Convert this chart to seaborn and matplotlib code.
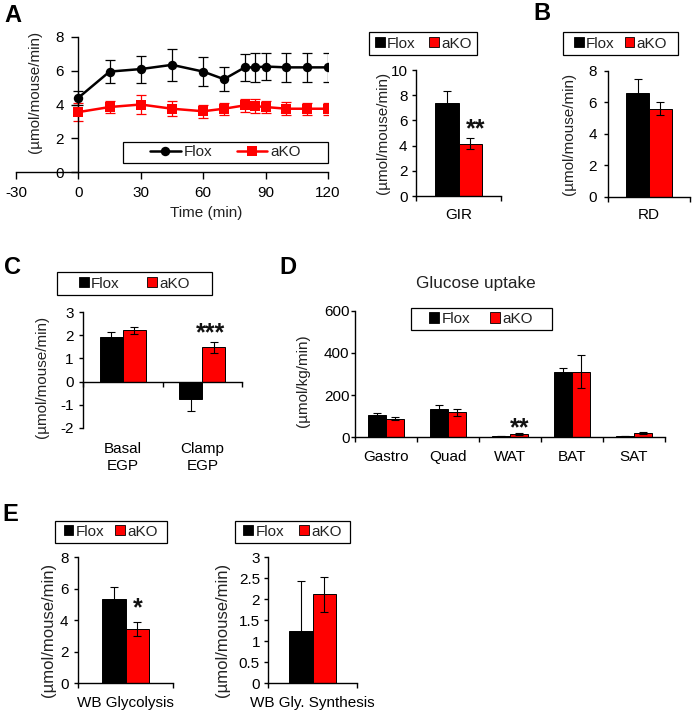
import matplotlib
matplotlib.use("Agg")
import matplotlib.pyplot as plt
import numpy as np
import pandas as pd
import seaborn as sns
from matplotlib.patches import Rectangle, Patch
from matplotlib.lines import Line2D
from matplotlib.ticker import FuncFormatter

# ---------------- data ----------------
groups = ["Flox", "aKO"]

time_min = [0, 15, 30, 45, 60, 70, 80, 85, 90, 100, 110, 120]
flox_rate = [4.4, 5.95, 6.1, 6.35, 5.95, 5.5, 6.2, 6.2, 6.25, 6.2, 6.2, 6.2]
flox_rate_err = [0.4, 0.7, 0.8, 0.95, 0.85, 0.7, 0.8, 0.85, 0.8, 0.85, 0.85, 0.85]
ako_rate = [3.55, 3.85, 4.0, 3.75, 3.6, 3.75, 3.95, 3.9, 3.85, 3.75, 3.75, 3.75]
ako_rate_err = [0.55, 0.35, 0.55, 0.45, 0.4, 0.35, 0.4, 0.4, 0.35, 0.4, 0.35, 0.35]
time_ticks = [-30, 0, 30, 60, 90, 120]
rate_ticks = [0, 2, 4, 6, 8]

gir_cats = ["GIR"]
gir_flox, gir_flox_err = [7.4], [0.9]
gir_ako, gir_ako_err = [4.15], [0.45]

rd_cats = ["RD"]
rd_flox, rd_flox_err = [6.6], [0.9]
rd_ako, rd_ako_err = [5.6], [0.4]

egp_cats = ["Basal\nEGP", "Clamp\nEGP"]
egp_flox, egp_flox_err = [1.95, -0.76], [0.2, 0.5]
egp_ako, egp_ako_err = [2.22, 1.48], [0.15, 0.23]

uptake_cats = ["Gastro", "Quad", "WAT", "BAT", "SAT"]
uptake_flox = [108, 135, 5, 310, 7]
uptake_flox_err = [8, 20, 1, 20, 1]
uptake_ako = [89, 118, 16, 311, 22]
uptake_ako_err = [9, 17, 3, 78, 5]

gly_cats = ["WB Glycolysis"]
gly_flox, gly_flox_err = [5.35], [0.78]
gly_ako, gly_ako_err = [3.45], [0.47]

syn_cats = ["WB Gly. Synthesis"]
syn_flox, syn_flox_err = [1.25], [1.18]
syn_ako, syn_ako_err = [2.12], [0.42]

RED = "#ff0000"
PAL = {"Flox": "black", "aKO": RED}

# ---------------- style ----------------
sns.set_style("ticks")
plt.rcParams["font.family"] = ["Liberation Sans", "DejaVu Sans"]
plt.rcParams["axes.unicode_minus"] = False
plt.rcParams["axes.linewidth"] = 1.0
plt.rcParams["xtick.major.width"] = 1.0
plt.rcParams["ytick.major.width"] = 1.0
plt.rcParams["xtick.color"] = "black"
plt.rcParams["ytick.color"] = "black"
plt.rcParams["axes.edgecolor"] = "black"
plt.rcParams["text.color"] = "#222222"

W, H = 693, 712
fig = plt.figure(figsize=(W / 100, H / 100), dpi=100)
FS = 11


def add_ax(l, t, r, b):
    return fig.add_axes([l / W, 1 - b / H, (r - l) / W, (b - t) / H])


def ftext(x, y, s, **kw):
    return fig.text(x / W, 1 - y / H, s, **kw)


def letter(x, y, s):
    ftext(x, y, s, fontsize=17, fontweight="bold", ha="center", va="baseline", color="black")


def stars(x, y, s):
    ftext(x, y, s, fontsize=18, fontweight="bold", ha="center", va="baseline", color="#111111")


def box_legend(box, handles, colsp, hl=0.65, hh=0.65, htp=0.15):
    l, t, r, b = box
    fig.patches.append(Rectangle((l / W, 1 - b / H), (r - l) / W, (b - t) / H,
                                 transform=fig.transFigure, facecolor="white",
                                 edgecolor="black", linewidth=0.9, zorder=3))
    fig.legend(handles, groups, loc="center",
               bbox_to_anchor=((l + r) / 2 / W, 1 - (t + b) / 2 / H),
               ncol=2, frameon=False, fontsize=FS, handlelength=hl,
               handleheight=hh, handletextpad=htp, columnspacing=colsp,
               borderpad=0, borderaxespad=0)


def bar_handles():
    return [Patch(facecolor="black", edgecolor="black", linewidth=0.6),
            Patch(facecolor=RED, edgecolor="black", linewidth=0.6)]


def fmt_g(v, pos):
    return "%g" % v


def bar_panel(box, cats, fv, fe, av, ae, width, ylim, yticks, ytick_pad, label_pad,
              zero_spine=False):
    ax = add_ax(*box)
    n = len(cats)
    df = pd.DataFrame({"cat": list(cats) * 2,
                       "group": ["Flox"] * n + ["aKO"] * n,
                       "value": list(fv) + list(av)})
    sns.barplot(data=df, x="cat", y="value", hue="group", order=cats,
                hue_order=groups, palette=PAL, saturation=1, width=width, gap=0,
                errorbar=None, edgecolor="black", linewidth=0.7, legend=False, ax=ax)
    for p in list(ax.patches):
        cx = p.get_x() + p.get_width() / 2
        ci = int(round(cx))
        top = p.get_y() + p.get_height()
        e = fe[ci] if cx < ci else ae[ci]
        ax.errorbar(cx, top, yerr=e, fmt="none", ecolor="black", elinewidth=0.8,
                    capsize=2.9, capthick=0.8, zorder=3)
    ax.set_xlim(-0.5, n - 0.5)
    ax.set_ylim(*ylim)
    ax.set_yticks(yticks)
    ax.yaxis.set_major_formatter(FuncFormatter(fmt_g))
    ax.set_xticks(np.arange(n + 1) - 0.5)
    ax.set_xticklabels([""] * (n + 1))
    ax.set_xticks(np.arange(n), minor=True)
    ax.set_xticklabels(cats, minor=True)
    ax.tick_params(axis="x", which="minor", length=0, pad=label_pad, labelsize=FS)
    ax.tick_params(axis="x", which="major", length=3.5, direction="out")
    ax.tick_params(axis="y", length=3, pad=ytick_pad, labelsize=FS)
    for lbl in ax.get_xticklabels(minor=True):
        lbl.set_linespacing(1.0)
    ax.set_xlabel("")
    ax.set_ylabel("")
    for s in ("top", "right"):
        ax.spines[s].set_visible(False)
    if zero_spine:
        ax.spines["bottom"].set_position(("data", 0))
    return ax


# ---------------- panel A: time course ----------------
axA = add_ax(16, 37, 328, 172)
n_t = len(time_min)
df_line = pd.DataFrame({"time": time_min * 2,
                        "rate": flox_rate + ako_rate,
                        "group": ["Flox"] * n_t + ["aKO"] * n_t})
sns.lineplot(data=df_line, x="time", y="rate", hue="group", style="group",
             hue_order=groups, style_order=groups, palette=PAL,
             markers={"Flox": "o", "aKO": "s"}, dashes=False, markersize=6.8,
             markeredgewidth=0, linewidth=1.8, errorbar=None, legend=False,
             ax=axA, zorder=3)
axA.errorbar(time_min, flox_rate, yerr=flox_rate_err, fmt="none", ecolor="black",
             elinewidth=0.9, capsize=3.5, capthick=0.9, zorder=2)
axA.errorbar(time_min, ako_rate, yerr=ako_rate_err, fmt="none", ecolor=RED,
             elinewidth=0.9, capsize=3.5, capthick=0.9, zorder=2)
axA.set_xlim(-30, 120)
axA.set_ylim(0, 8)
axA.set_xticks(time_ticks)
axA.set_yticks(rate_ticks)
axA.spines["left"].set_position(("data", 0))
for s in ("top", "right"):
    axA.spines[s].set_visible(False)
axA.tick_params(axis="x", length=5, pad=5.2, labelsize=FS)
axA.tick_params(axis="y", length=5, pad=5.5, labelsize=FS)
axA.set_xlabel("")
axA.set_ylabel("")
ftext(206, 213, "Time (min)", fontsize=FS, ha="center", va="center")
ftext(35, 92, "(µmol/mouse/min)", fontsize=FS, rotation=90, ha="center", va="center")
box_legend((123, 141.7, 328, 163.3),
           [Line2D([], [], color="black", marker="o", markersize=6.8, lw=1.8, mew=0),
            Line2D([], [], color=RED, marker="s", markersize=6.8, lw=1.8, mew=0)],
           colsp=1.6, hl=2.0, hh=0.7, htp=0.2)
letter(13, 22, "A")

# ---------------- panel A: GIR ----------------
bar_panel((416, 70, 501, 196), gir_cats, gir_flox, gir_flox_err, gir_ako, gir_ako_err,
          0.55, (0, 10), [0, 2, 4, 6, 8, 10], 3.2, 8.3)
ftext(383, 133, "(µmol/mouse/min)", fontsize=FS, rotation=90, ha="center", va="center")
box_legend((369.3, 32.3, 477.3, 55), bar_handles(), colsp=0.85)
stars(476, 136, "**")

# ---------------- panel B: RD ----------------
bar_panel((608, 70.7, 690, 196.7), rd_cats, rd_flox, rd_flox_err, rd_ako, rd_ako_err,
          0.56, (0, 8), [0, 2, 4, 6, 8], 4.8, 8.1)
ftext(569, 133.5, "(µmol/mouse/min)", fontsize=FS, rotation=90, ha="center", va="center")
box_legend((562.7, 32.3, 678.3, 55), bar_handles(), colsp=0.65)
letter(541.5, 20, "B")

# ---------------- panel C: EGP ----------------
bar_panel((83, 312.3, 242, 427.7), egp_cats, egp_flox, egp_flox_err, egp_ako, egp_ako_err,
          0.58, (-2, 3), [-2, -1, 0, 1, 2, 3], 3.6, 43.8, zero_spine=True)
ftext(42, 376.5, "(µmol/mouse/min)", fontsize=FS, rotation=90, ha="center", va="center")
box_legend((56.7, 272.3, 211.7, 295), bar_handles(), colsp=1.8)
stars(211, 340, "***")
letter(12.5, 274, "C")

# ---------------- panel D: glucose uptake ----------------
bar_panel((355, 310.7, 665, 437.3), uptake_cats, uptake_flox, uptake_flox_err,
          uptake_ako, uptake_ako_err, 0.58, (0, 600), [0, 200, 400, 600], 1.0, 8.8)
ftext(303, 381, "(µmol/kg/min)", fontsize=FS, rotation=90, ha="center", va="center")
ftext(476, 283, "Glucose uptake", fontsize=12.3, ha="center", va="center")
box_legend((410.7, 307.7, 551.7, 330), bar_handles(), colsp=1.3)
stars(519.5, 435, "**")
letter(287.5, 274, "D")

# ---------------- panel E: glycolysis ----------------
bar_panel((78, 557.3, 173, 683.3), gly_cats, gly_flox, gly_flox_err, gly_ako, gly_ako_err,
          0.5, (0, 8), [0, 2, 4, 6, 8], 3.9, 9.3)
ftext(49, 630, "(µmol/mouse/min)", fontsize=12, rotation=90, ha="center", va="center")
box_legend((55, 520.7, 166.7, 542.7), bar_handles(), colsp=0.72)
stars(137.5, 615, "*")
letter(10.5, 521, "E")

# ---------------- panel E: glycogen synthesis ----------------
bar_panel((268.3, 557.3, 356.7, 683.3), syn_cats, syn_flox, syn_flox_err, syn_ako,
          syn_ako_err, 0.54, (0, 3), [0, 0.5, 1, 1.5, 2, 2.5, 3], 3.0, 9.3)
ftext(222.5, 630, "(µmol/mouse/min)", fontsize=12, rotation=90, ha="center", va="center")
box_legend((235, 520.7, 350, 542.7), bar_handles(), colsp=1.0)

fig.savefig("out.png", dpi=100)
